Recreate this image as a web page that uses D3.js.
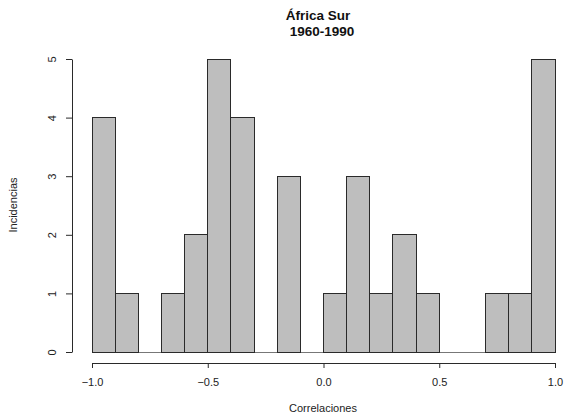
<!DOCTYPE html>
<html><head><meta charset="utf-8">
<script src="https://cdn.jsdelivr.net/npm/d3@7"></script>
<style>body{margin:0;background:#fff}svg{display:block}text{font-family:"Liberation Sans",Arial,sans-serif}</style>
</head><body><svg id="c" width="566" height="415"></svg>
<script>
const binStarts = [-1.0,-0.9,-0.8,-0.7,-0.6,-0.5,-0.4,-0.3,-0.2,-0.1,0.0,0.1,0.2,0.3,0.4,0.5,0.6,0.7,0.8,0.9];
const counts    = [4,1,0,1,2,5,4,0,3,0,1,3,1,2,1,0,0,1,1,5];
const binWidth = 0.1;
const xTicks = [-1.0,-0.5,0.0,0.5,1.0];
const yTicks = [0,1,2,3,4,5];

const svg = d3.select("#c");
const x = d3.scaleLinear().domain([-1,1]).range([92,555]);
const y = d3.scaleLinear().domain([0,5]).range([352,59]);
const stroke = "#2a2a2a";

const data = binStarts.map((s,i)=>({s, c:counts[i]}));
// zero-count bins drawn as flat lines (as R does)
svg.append("g").selectAll("line").data(data.filter(d=>d.c===0)).join("line")
  .attr("x1", d=>x(d.s)).attr("x2", d=>x(d.s+binWidth))
  .attr("y1", y(0)).attr("y2", y(0))
  .attr("stroke","#777").attr("stroke-width",1).attr("shape-rendering","crispEdges");
svg.append("g").selectAll("rect").data(data.filter(d=>d.c>0)).join("rect")
  .attr("x", d=>x(d.s)).attr("width", d=>x(d.s+binWidth)-x(d.s))
  .attr("y", d=>y(d.c)).attr("height", d=>y(0)-y(d.c))
  .attr("fill","#bebebe").attr("stroke",stroke).attr("stroke-width",1)
  .attr("shape-rendering","crispEdges");

// x axis
const xa = svg.append("g").attr("transform","translate(0,363)")
  .call(d3.axisBottom(x).tickValues(xTicks).tickFormat(d3.format(".1f")).tickSize(5).tickSizeOuter(0));
xa.select(".domain").attr("stroke",stroke);
xa.selectAll(".tick line").attr("stroke",stroke);
xa.selectAll("text").attr("font-size",11).attr("fill","#222").attr("dy",null).attr("y",23);

// y axis
const ya = svg.append("g").attr("transform","translate(72,0)")
  .call(d3.axisLeft(y).tickValues(yTicks).tickFormat(d3.format("d")).tickSize(6).tickSizeOuter(0));
ya.select(".domain").attr("stroke",stroke);
ya.selectAll(".tick line").attr("stroke",stroke);
ya.selectAll(".tick text").attr("font-size",11).attr("fill","#222")
  .attr("x",null).attr("dy",null).attr("text-anchor","middle")
  .attr("transform","translate(-20,0) rotate(-90)").attr("y",0).attr("dy","0.35em");

// titles
svg.append("text").attr("x",318).attr("y",20).attr("text-anchor","middle")
  .attr("font-size",13.5).attr("font-weight","bold").attr("fill","#111").text("África Sur");
svg.append("text").attr("x",322).attr("y",36).attr("text-anchor","middle")
  .attr("font-size",13.5).attr("font-weight","bold").attr("fill","#111").text("1960-1990");
svg.append("text").attr("x",323).attr("y",412).attr("text-anchor","middle")
  .attr("font-size",11).attr("fill","#222").text("Correlaciones");
svg.append("text").attr("transform","translate(17,205) rotate(-90)").attr("text-anchor","middle")
  .attr("font-size",11).attr("fill","#222").text("Incidencias");
</script></body></html>
